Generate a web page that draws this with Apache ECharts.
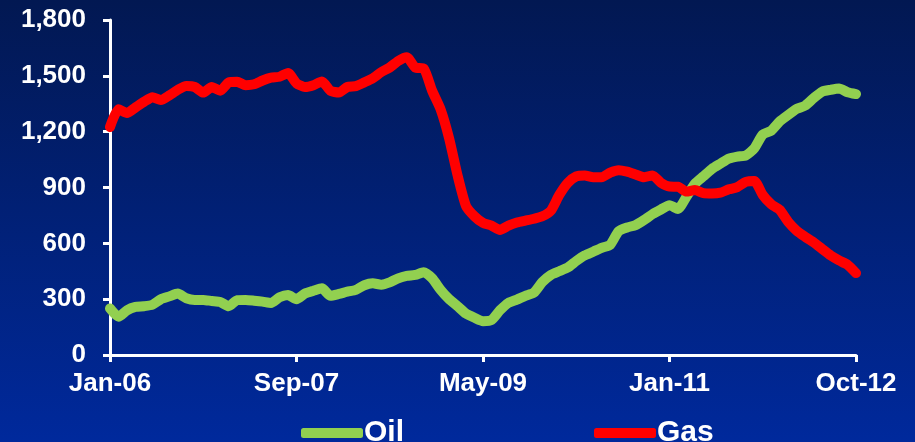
<!DOCTYPE html>
<html>
<head>
<meta charset="utf-8">
<script src="https://cdn.jsdelivr.net/npm/echarts@6/dist/echarts.min.js"></script>
<style>
  html, body { margin: 0; padding: 0; }
  #chart { width: 915px; height: 442px; }
</style>
</head>
<body>
<div id="chart"></div>
<script>
// Weekly rig counts sampled every 4 weeks, Jan 2006 – Oct 2012
const startDate = [2006, 0, 6];
const stepWeeks = 4;
const tickLabels = ['Jan-06', 'Sep-07', 'May-09', 'Jan-11', 'Oct-12'];

const oil = [
  250, 205, 240, 258, 262, 270, 300, 315, 330, 305,
  296, 296, 290, 285, 262, 295, 296, 292, 287, 280,
  310, 322, 300, 330, 345, 358, 318, 328, 340, 350,
  375, 385, 378, 390, 412, 425, 430, 445, 412, 350,
  300, 262, 222, 200, 182, 188, 240, 280, 298, 318,
  335, 392, 430, 450, 470, 505, 535, 555, 576, 592,
  665, 685, 698, 725, 757, 782, 805, 785, 850, 920,
  960, 1000, 1028, 1055, 1066, 1072, 1110, 1185, 1205, 1255,
  1290, 1322, 1340, 1380, 1415, 1425, 1432, 1412, 1402
];

const gas = [
  1225, 1320, 1300, 1330, 1360, 1385, 1370, 1395, 1425, 1445,
  1440, 1410, 1440, 1420, 1465, 1468, 1450, 1455, 1475, 1490,
  1495, 1515, 1460, 1440, 1450, 1470, 1420, 1410, 1440, 1445,
  1465, 1487, 1520, 1545, 1580, 1600, 1545, 1540, 1420, 1320,
  1165, 965, 800, 745, 710, 695, 672, 695, 712, 722,
  732, 745, 775, 860, 925, 960, 965, 955, 955, 980,
  993, 985, 970, 955, 965, 925, 905, 904, 878, 886,
  870, 868, 872, 890, 902, 930, 935, 860, 810, 780,
  715, 668, 635, 605, 570, 535, 508, 485, 440
];

const MONTHS = ['Jan','Feb','Mar','Apr','May','Jun','Jul','Aug','Sep','Oct','Nov','Dec'];
const categories = oil.map((_, i) => {
  const d = new Date(startDate[0], startDate[1], startDate[2] + i * stepWeeks * 7);
  return MONTHS[d.getMonth()] + '-' + String(d.getFullYear() % 100).padStart(2, '0');
});
const labelEvery = (categories.length - 1) / (tickLabels.length - 1);

const FONT = "Arial, 'Liberation Sans', sans-serif";
const chart = echarts.init(document.getElementById('chart'));

chart.setOption({
  animation: false,
  backgroundColor: new echarts.graphic.LinearGradient(0, 0, 0, 1, [
    { offset: 0, color: '#021852' },
    { offset: 1, color: '#00299c' }
  ]),
  grid: { left: 110, right: 59, top: 20, bottom: 87 },
  legend: {
    left: 296,
    top: 413,
    itemGap: 190,
    itemWidth: 62,
    itemHeight: 10,
    icon: 'roundRect',
    textStyle: { color: '#ffffff', fontSize: 30, fontWeight: 'bold', fontFamily: FONT, padding: [0, 0, 0, -4] },
    data: [
      { name: 'Oil', itemStyle: { color: '#92d050' } },
      { name: 'Gas', itemStyle: { color: '#ff0000' } }
    ]
  },
  xAxis: {
    type: 'category',
    data: categories,
    boundaryGap: false,
    axisLine: { lineStyle: { color: '#ffffff', width: 3 } },
    axisTick: {
      interval: (i) => i % labelEvery === 0,
      length: 7,
      lineStyle: { color: '#ffffff', width: 3 }
    },
    axisLabel: {
      interval: (i) => i % labelEvery === 0,
      formatter: (v, i) => tickLabels[i / labelEvery] || v,
      color: '#ffffff',
      fontSize: 26,
      fontWeight: 'bold',
      fontFamily: FONT,
      margin: 16
    },
    splitLine: { show: false }
  },
  yAxis: {
    type: 'value',
    min: 0,
    max: 1800,
    interval: 300,
    axisLine: { show: true, lineStyle: { color: '#ffffff', width: 3 } },
    axisTick: { show: true, length: 7, lineStyle: { color: '#ffffff', width: 3 } },
    axisLabel: {
      formatter: (v) => v.toLocaleString('en-US'),
      color: '#ffffff',
      fontSize: 26,
      fontWeight: 'bold',
      fontFamily: FONT,
      margin: 24
    },
    splitLine: { show: false }
  },
  series: [
    {
      name: 'Oil',
      type: 'line',
      data: oil,
      showSymbol: false,
      smooth: 0.2,
      lineStyle: { color: '#92d050', width: 10, cap: 'round', join: 'round' },
      itemStyle: { color: '#92d050' }
    },
    {
      name: 'Gas',
      type: 'line',
      data: gas,
      showSymbol: false,
      smooth: 0.2,
      lineStyle: { color: '#ff0000', width: 10, cap: 'round', join: 'round' },
      itemStyle: { color: '#ff0000' }
    }
  ]
});
</script>
</body>
</html>
